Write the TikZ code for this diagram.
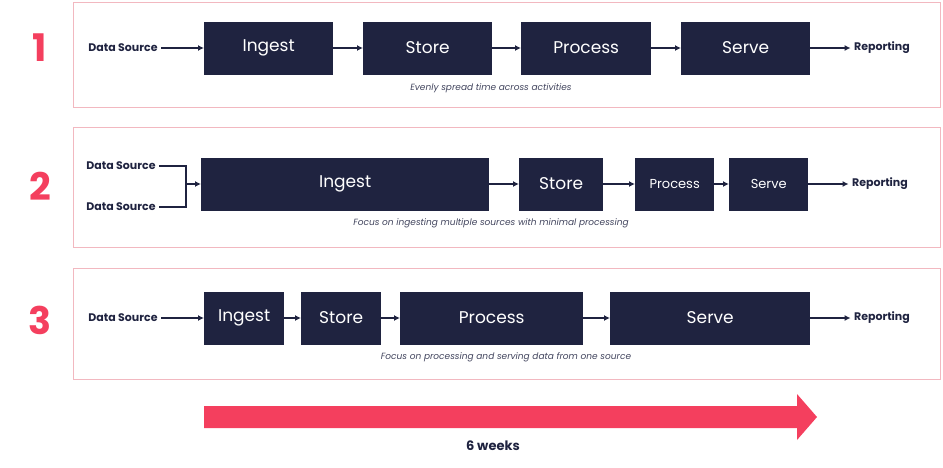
\documentclass[tikz,border=0pt]{standalone}
\usepackage{fontspec}
\setmainfont{Poppins}
\usetikzlibrary{arrows.meta}
\definecolor{navy}{HTML}{1F2340}
\definecolor{rd}{HTML}{F43F5E}
\definecolor{pk}{HTML}{F2B8C0}
\begin{document}
\begin{tikzpicture}[x=1pt,y=-1pt,
  box/.style={fill=navy,text=white,minimum height=53pt,inner sep=0pt,font=\fontsize{17}{17}\selectfont,anchor=west},
  lbl/.style={text=navy,font=\fontsize{11}{11}\selectfont\bfseries},
  num/.style={text=rd,font=\fontsize{38}{38}\selectfont\bfseries},
  captxt/.style={text=navy!85,font=\fontsize{9}{9}\selectfont\itshape},
  panel/.style={draw=pk,line width=0.8pt},
  ar/.style={-{Latex[length=6pt,width=6pt]},line width=1.3pt,navy}]
\useasboundingbox (0,0) rectangle (943,467);
% panels
\draw[panel] (73,2) rectangle (940,107);
\draw[panel] (73,127) rectangle (940,247);
\draw[panel] (73,268) rectangle (940,379);
% row 1
\node[num] (n1) at (40,48) {1};
\node[lbl] (d1) at (123,48) {Data Source};
\node[box,minimum width=129pt] (i1) at (204,48) {Ingest};
\node[box,minimum width=129pt] (s1) at (363,48) {Store};
\node[box,minimum width=130pt] (p1) at (521,48) {Process};
\node[box,minimum width=129pt] (v1) at (681,48) {Serve};
\node[lbl] (r1) at (882,48) {Reporting};
\draw[ar] (d1.east) -- (i1.west);
\draw[ar] (i1.east) -- (s1.west);
\draw[ar] (s1.east) -- (p1.west);
\draw[ar] (p1.east) -- (v1.west);
\draw[ar] (v1.east) -- (r1.west);
\node[captxt] (c1) at (491,88) {Evenly spread time across activities};
% row 2
\node[num] (n2) at (40,186) {2};
\node[lbl] (d2a) at (121,166) {Data Source};
\node[lbl] (d2b) at (121,207) {Data Source};
\coordinate (j2) at (186,184);
\draw[line width=1.3pt,navy] (d2a.east) -| (186,207) -- (d2b.east);
\node[box,minimum width=288pt] (i2) at (201,184) {Ingest};
\node[box,minimum width=84pt] (s2) at (519,184) {Store};
\node[box,minimum width=79pt,font=\fontsize{13}{13}\selectfont] (p2) at (635,184) {Process};
\node[box,minimum width=79pt,font=\fontsize{13}{13}\selectfont] (v2) at (729,184) {Serve};
\node[lbl] (r2) at (880,184) {Reporting};
\draw[ar] (j2) -- (i2.west);
\draw[ar] (i2.east) -- (s2.west);
\draw[ar] (s2.east) -- (p2.west);
\draw[ar] (p2.east) -- (v2.west);
\draw[ar] (v2.east) -- (r2.west);
\node[captxt] (c2) at (491,223) {Focus on ingesting multiple sources with minimal processing};
% row 3
\node[num] (n3) at (40,320) {3};
\node[lbl] (d3) at (123,318) {Data Source};
\node[box,minimum width=80pt] (i3) at (204,318) {Ingest};
\node[box,minimum width=80pt] (s3) at (301,318) {Store};
\node[box,minimum width=183pt] (p3) at (400,318) {Process};
\node[box,minimum width=200pt] (v3) at (610,318) {Serve};
\node[lbl] (r3) at (882,318) {Reporting};
\draw[ar] (d3.east) -- (i3.west);
\draw[ar] (i3.east) -- (s3.west);
\draw[ar] (s3.east) -- (p3.west);
\draw[ar] (p3.east) -- (v3.west);
\draw[ar] (v3.east) -- (r3.west);
\node[captxt] (c3) at (506,357) {Focus on processing and serving data from one source};
% timeline
\fill[rd] (204,406) -- (797,406) -- (797,394) -- (817,417) -- (797,440) -- (797,428) -- (204,428) -- cycle;
\node[lbl,font=\fontsize{13}{13}\selectfont\bfseries] (w) at (493,446) {6 weeks};
\end{tikzpicture}
\end{document}
